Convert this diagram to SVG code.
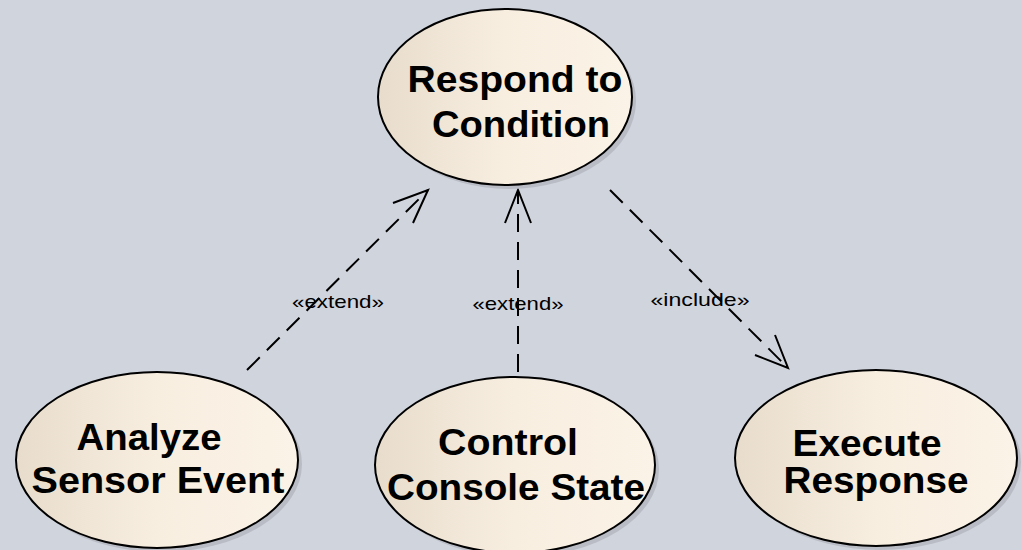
<svg xmlns="http://www.w3.org/2000/svg" width="1021" height="550" viewBox="0 0 1021 550">
<style>
.uc{fill:url(#g);stroke:#000;stroke-width:2}
.sh{fill:#b9bcc4}
.t{font-family:"Liberation Sans",Arial,sans-serif;font-weight:bold;font-size:37px;fill:#000;text-anchor:middle}
.l{font-family:"Liberation Sans",Arial,sans-serif;font-size:19px;fill:#000;text-anchor:middle}
.c{fill:none;stroke:#000;stroke-width:2;stroke-dasharray:18 10}
.a{fill:none;stroke:#000;stroke-width:2}
</style>
<defs>
<linearGradient id="g" x1="0" y1="0" x2="1" y2="0">
<stop offset="0" stop-color="#e8ddcc"/>
<stop offset="0.5" stop-color="#f8eee0"/>
<stop offset="1" stop-color="#fbf3e7"/>
</linearGradient>
</defs>
<rect width="1021" height="550" fill="#d0d4dd"/>
<g id="connectors">
<line class="c" x1="247" y1="370" x2="428" y2="190"/>
<polyline class="a" points="393,203 428,190 413,223"/>
<line class="c" x1="518" y1="372" x2="518" y2="190"/>
<polyline class="a" points="505,223 518,190 531,223"/>
<line class="c" x1="610" y1="190" x2="788" y2="368"/>
<polyline class="a" points="755,355 788,368 775,335"/>
<text class="l" x="338" y="308" textLength="92" lengthAdjust="spacingAndGlyphs">«extend»</text>
<text class="l" x="518" y="310" textLength="91" lengthAdjust="spacingAndGlyphs">«extend»</text>
<text class="l" x="700" y="306" textLength="99" lengthAdjust="spacingAndGlyphs">«include»</text>
</g>
<g id="respond">
<ellipse class="sh" cx="509" cy="101" rx="127" ry="88"/>
<ellipse class="uc" cx="505" cy="97" rx="127" ry="88"/>
<text class="t" x="515" y="92" textLength="215" lengthAdjust="spacingAndGlyphs">Respond to</text>
<text class="t" x="521" y="137" textLength="178" lengthAdjust="spacingAndGlyphs">Condition</text>
</g>
<g id="analyze">
<ellipse class="sh" cx="161" cy="464" rx="141" ry="88"/>
<ellipse class="uc" cx="157" cy="460" rx="141" ry="88"/>
<text class="t" x="149" y="450" textLength="145" lengthAdjust="spacingAndGlyphs">Analyze</text>
<text class="t" x="158" y="493" textLength="253" lengthAdjust="spacingAndGlyphs">Sensor Event</text>
</g>
<g id="control">
<ellipse class="sh" cx="519" cy="469" rx="140" ry="88"/>
<ellipse class="uc" cx="515" cy="465" rx="140" ry="88"/>
<text class="t" x="508" y="455" textLength="140" lengthAdjust="spacingAndGlyphs">Control</text>
<text class="t" x="516" y="500" textLength="258" lengthAdjust="spacingAndGlyphs">Console State</text>
</g>
<g id="execute">
<ellipse class="sh" cx="880" cy="462" rx="141" ry="88"/>
<ellipse class="uc" cx="876" cy="458" rx="141" ry="88"/>
<text class="t" x="867" y="456" textLength="149" lengthAdjust="spacingAndGlyphs">Execute</text>
<text class="t" x="876" y="493" textLength="185" lengthAdjust="spacingAndGlyphs">Response</text>
</g>
</svg>
